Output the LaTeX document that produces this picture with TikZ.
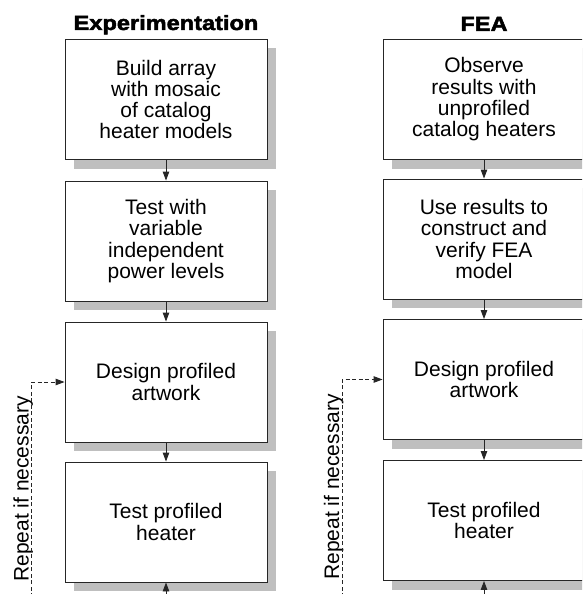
\documentclass[tikz,border=0pt]{standalone}
\usepackage{fontspec}
\setmainfont{Liberation Sans}
\newfontfamily\headfont{Liberation Sans Bold}[FakeBold=2.4,FakeStretch=1.15]
\usepackage{tikz}
\usetikzlibrary{arrows.meta}
\usetikzlibrary{shadows}

\tikzset{
  stepbox/.style={draw=black!85, line width=0.9pt, fill=white, align=center,
    minimum width=202pt, minimum height=120pt, inner sep=0pt,
    font=\fontsize{21}{21.3}\selectfont,
    copy shadow={shadow xshift=9pt, shadow yshift=-9pt, draw=none, fill=black!25}},
  headline/.style={anchor=base, font=\headfont\fontsize{20.5}{21}\selectfont},
  flow/.style={draw=black!85, line width=0.9pt, -{Triangle[length=9pt,width=6.5pt]}},
  loopline/.style={flow, dashed, dash pattern=on 4pt off 2.5pt},
  replabel/.style={rotate=90, anchor=base, font=\fontsize{21}{21.3}\selectfont}
}

\begin{document}
\begin{tikzpicture}[x=1pt,y=-1pt]
        \useasboundingbox (0,0) rectangle (582,594);
        \clip (0,0) rectangle (582,594);
        %
        % Experimentation column
        \node[headline] (exphead) at (166,30) {Experimentation};
        \node[stepbox] (exp1) at (166,99.5) {Build array\\with mosaic\\of catalog\\heater models};
        \node[stepbox] (exp2) at (166,241) {Test with\\variable\\independent\\power levels};
        \node[stepbox] (exp3) at (166,382) {Design profiled\\artwork};
        \node[stepbox] (exp4) at (166,522) {Test profiled\\heater};
        \coordinate (expin) at (166,610);
        \coordinate (exploop) at (31.5,610);
        \node[replabel] (expnote) at (28.5,489) {Repeat if necessary};
        %
        \draw[flow] (exp1) -- (exp2);
        \draw[flow] (exp2) -- (exp3);
        \draw[flow] (exp3) -- (exp4);
        \draw[flow] (expin) -- (exp4);
        \draw[loopline] (exploop) |- (exp3.west);
        %
        % FEA column
        \node[headline] (feahead) at (484,31) {FEA};
        \node[stepbox] (fea1) at (484,99.5) {Observe\\results with\\unprofiled\\catalog heaters};
        \node[stepbox] (fea2) at (484,239) {Use results to\\construct and\\verify FEA\\model};
        \node[stepbox] (fea3) at (484,379.5) {Design profiled\\artwork};
        \node[stepbox] (fea4) at (484,520.5) {Test profiled\\heater};
        \coordinate (feain) at (484,610);
        \coordinate (fealoop) at (342,610);
        \node[replabel] (feanote) at (339,487) {Repeat if necessary};
        %
        \draw[flow] (fea1) -- (fea2);
        \draw[flow] (fea2) -- (fea3);
        \draw[flow] (fea3) -- (fea4);
        \draw[flow] (feain) -- (fea4);
        \draw[loopline] (fealoop) |- (fea3.west);
      \end{tikzpicture}
\end{document}
